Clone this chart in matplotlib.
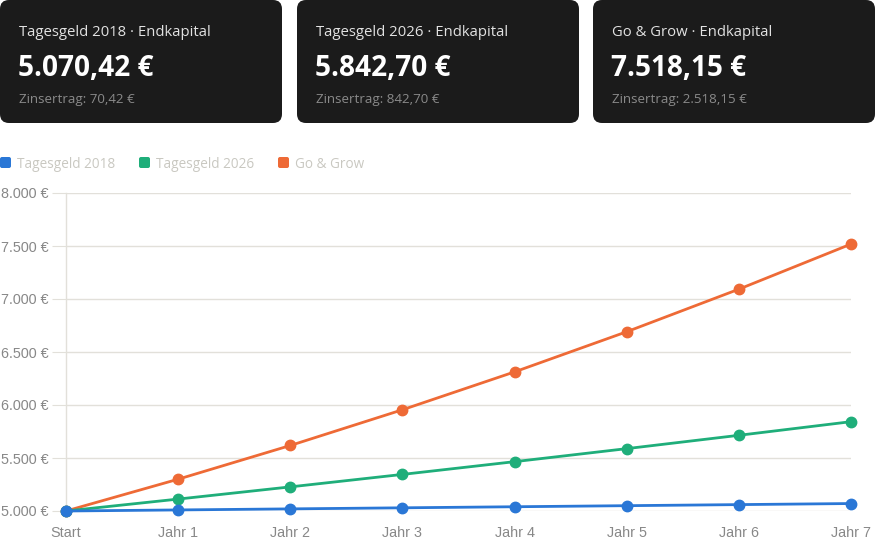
import numpy as np
import matplotlib
matplotlib.use('Agg')
import matplotlib.pyplot as plt
from matplotlib.patches import FancyBboxPatch
from matplotlib.ticker import FuncFormatter

labels = ['Start', 'Jahr 1', 'Jahr 2', 'Jahr 3', 'Jahr 4', 'Jahr 5', 'Jahr 6', 'Jahr 7']
series_names = ['Tagesgeld 2018', 'Tagesgeld 2026', 'Go & Grow']
tagesgeld_2018 = [5000.00, 5010.00, 5020.02, 5030.06, 5040.12, 5050.20, 5060.30, 5070.42]
tagesgeld_2026 = [5000.00, 5112.50, 5227.53, 5345.15, 5465.42, 5588.39, 5714.13, 5842.70]
go_and_grow = [5000.00, 5300.00, 5618.00, 5955.08, 6312.38, 6691.13, 7092.60, 7518.15]
colors = ['#2a77d6', '#1fae7a', '#ee6a36']

card_titles = ['Tagesgeld 2018 · Endkapital', 'Tagesgeld 2026 · Endkapital', 'Go & Grow · Endkapital']
card_values = ['5.070,42 €', '5.842,70 €', '7.518,15 €']
card_subs = ['Zinsertrag: 70,42 €', 'Zinsertrag: 842,70 €', 'Zinsertrag: 2.518,15 €']

W, H = 875, 546
fig = plt.figure(figsize=(W / 100, H / 100), dpi=100)

# background layer in pixel coords for cards + legend
bg = fig.add_axes([0, 0, 1, 1])
bg.set_xlim(0, W)
bg.set_ylim(H, 0)
bg.axis('off')

card_x = [0, 297, 593]
card_w = 282
for i in range(3):
    x0 = card_x[i]
    box = FancyBboxPatch((x0 + 9, 9), card_w - 18, 123 - 18,
                         boxstyle='round,pad=9,rounding_size=9',
                         fc='#1b1b1b', ec='none')
    bg.add_patch(box)
    bg.text(x0 + 19, 33, card_titles[i], color='#e2e2e2', fontsize=10.7,
            family='Open Sans', va='center', ha='left')
    bg.text(x0 + 18, 69, card_values[i], color='white', fontsize=20.2,
            family='Open Sans', fontweight='bold', va='center', ha='left')
    bg.text(x0 + 19, 100, card_subs[i], color='#8a8a8a', fontsize=9.6,
            family='Open Sans', va='center', ha='left')

# legend
leg_x = [0, 139, 278]
for i, name in enumerate(series_names):
    sq = FancyBboxPatch((leg_x[i] + 2, 159), 7, 7,
                        boxstyle='round,pad=2,rounding_size=2',
                        fc=colors[i], ec='none')
    bg.add_patch(sq)
    bg.text(leg_x[i] + 17, 164.5, name, color='#c9c8c1', fontsize=9.8,
            family='Open Sans', va='center', ha='left')

# main chart
left, right, top, bottom = 66, 851, 193, 511
ax = fig.add_axes([left / W, 1 - bottom / H, (right - left) / W, (bottom - top) / H])
x = np.arange(len(labels))
# first series sits on top, like the original
for k, (vals, c) in enumerate(zip([tagesgeld_2018, tagesgeld_2026, go_and_grow], colors)):
    ax.plot(x, vals, color=c, lw=2.0, marker='o', ms=7.5, clip_on=False, zorder=5 - k)

ax.set_xlim(0, len(labels) - 1)
ax.set_ylim(5000, 8000)
ax.set_yticks(np.arange(5000, 8001, 500))
ax.yaxis.set_major_formatter(FuncFormatter(lambda v, p: f'{int(v):,} €'.replace(',', '.')))
ax.set_xticks(x)
ax.set_xticklabels(labels)
ax.grid(axis='y', color='#e2e0da', lw=1.0)
for s in ['top', 'right', 'bottom']:
    ax.spines[s].set_visible(False)
ax.spines['left'].set_color('#e2e0da')
ax.spines['left'].set_linewidth(1.0)
ax.tick_params(axis='y', length=10, color='#e2e0da', labelcolor='#888888',
               labelsize=10.4, pad=2.5)
ax.tick_params(axis='x', length=0, labelcolor='#888888', labelsize=10.4, pad=11)
for t in ax.get_xticklabels() + ax.get_yticklabels():
    t.set_family('Liberation Sans')

fig.savefig('out.png', dpi=100)
